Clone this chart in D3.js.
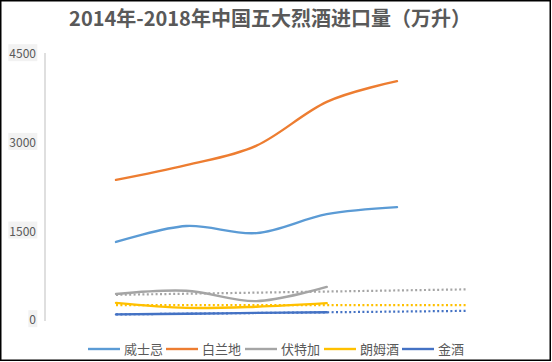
<!DOCTYPE html>
<html>
<head>
<meta charset="utf-8">
<script src="https://cdn.jsdelivr.net/npm/d3@7"></script>
<style>
  body { margin: 0; background: #fff; }
  text { font-family: "Noto Sans CJK SC", "Noto Sans", sans-serif; }
</style>
</head>
<body>
<div id="chart"></div>
<script>
// data (万升)
var years = ["2014", "2015", "2016", "2017", "2018"];
var whisky = [1320, 1590, 1470, 1790, 1910];
var brandy = [2370, 2620, 2950, 3690, 4040];
var vodka = [440, 495, 320, 560];
var rum = [290, 205, 225, 285];
var gin = [95, 105, 120, 130];
var yTicks = [0, 1500, 3000, 4500];

var series = [
  { name: "威士忌", values: whisky, color: "#5B9BD5", trend: false },
  { name: "白兰地", values: brandy, color: "#ED7D31", trend: false },
  { name: "伏特加", values: vodka, color: "#A5A5A5", trend: true },
  { name: "朗姆酒", values: rum, color: "#FFC000", trend: true },
  { name: "金酒", values: gin, color: "#4472C4", trend: true }
];

var W = 552, H = 362;
var svg = d3.select("#chart").append("svg")
  .attr("width", W)
  .attr("height", H);

svg.append("rect")
  .attr("x", 0.75).attr("y", 0.75)
  .attr("width", 549.5).attr("height", 359.5)
  .attr("fill", "#fff")
  .attr("stroke", "#000")
  .attr("stroke-width", 1.5);

// title
svg.append("text")
  .attr("x", 270).attr("y", 26)
  .attr("text-anchor", "middle")
  .attr("font-size", 20)
  .attr("font-weight", "bold")
  .attr("fill", "#595959")
  .text("2014年-2018年中国五大烈酒进口量（万升）");

var x = d3.scaleLinear().domain([0, years.length - 1]).range([116, 397]);
var y = d3.scaleLinear().domain([0, 4500]).range([320, 54]);

// y axis line
svg.append("line")
  .attr("x1", 45).attr("x2", 45)
  .attr("y1", y(4500) - 1).attr("y2", y(0) + 1)
  .attr("stroke", "#bfbfbf")
  .attr("stroke-width", 1);

var tick = svg.append("g").selectAll("g")
  .data(yTicks)
  .join("g")
  .attr("transform", function (d) { return "translate(36," + y(d) + ")"; });

tick.append("text")
  .attr("text-anchor", "end")
  .attr("dy", "0.35em")
  .attr("font-size", 12)
  .attr("font-family", "'Noto Sans', sans-serif")
  .attr("fill", "#595959")
  .text(function (d) { return d; })
  .each(function () {
    var b = this.getBBox();
    d3.select(this.parentNode).insert("rect", "text")
      .attr("x", b.x - 1).attr("y", b.y)
      .attr("width", b.width + 2).attr("height", b.height)
      .attr("fill", "#f2f2f2");
  });

var line = d3.line()
  .x(function (d, i) { return x(i); })
  .y(function (d) { return y(d); })
  .curve(d3.curveCatmullRom.alpha(0));

// linear trend lines (least squares), extended forward
series.filter(function (s) { return s.trend; }).forEach(function (s) {
  var n = s.values.length;
  var mx = d3.mean(s.values, function (d, i) { return i; });
  var my = d3.mean(s.values);
  var num = d3.sum(s.values, function (d, i) { return (i - mx) * (d - my); });
  var den = d3.sum(s.values, function (d, i) { return (i - mx) * (i - mx); });
  var slope = num / den, b = my - slope * mx;
  var xEnd = years.length; // forecast one period past 2018
  svg.append("line")
    .attr("x1", x(0)).attr("y1", y(b))
    .attr("x2", x(xEnd)).attr("y2", y(b + slope * xEnd))
    .attr("stroke", s.color)
    .attr("stroke-width", 2.2)
    .attr("stroke-dasharray", "2 2.4");
});

svg.append("g").selectAll("path")
  .data(series)
  .join("path")
  .attr("d", function (d) { return line(d.values); })
  .attr("fill", "none")
  .attr("stroke", function (d) { return d.color; })
  .attr("stroke-width", 2.4)
  .attr("stroke-linecap", "round");

// legend
var legendX = [88, 166, 245, 324, 402];
var legend = svg.append("g").selectAll("g")
  .data(series)
  .join("g")
  .attr("transform", function (d, i) { return "translate(" + legendX[i] + ",349)"; });

legend.append("line")
  .attr("x1", 0).attr("x2", 32)
  .attr("stroke", function (d) { return d.color; })
  .attr("stroke-width", 2.4);

legend.append("text")
  .attr("x", 36)
  .attr("dy", "0.35em")
  .attr("font-size", 13)
  .attr("fill", "#595959")
  .text(function (d) { return d.name; });
</script>
</body>
</html>
